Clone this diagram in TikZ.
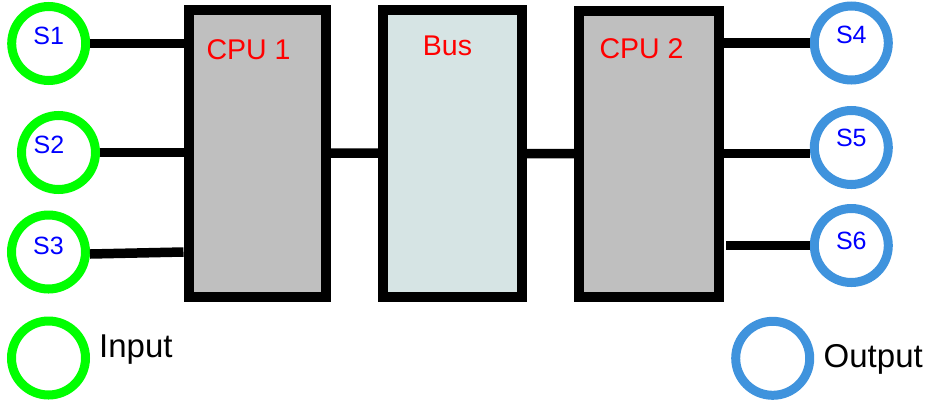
\documentclass[tikz,border=0pt]{standalone}
\usepackage{fontspec}
\setmainfont{Liberation Sans}
\definecolor{ringgreen}{HTML}{00FF00}
\definecolor{ringblue}{HTML}{3F93DD}
\definecolor{labelblue}{HTML}{0000FF}
\definecolor{cpugray}{HTML}{BFBFBF}
\definecolor{busfill}{HTML}{D6E4E4}
\begin{document}
\begin{tikzpicture}[x=1pt,y=-1pt,
  inring/.style={circle,draw=ringgreen,line width=9pt,minimum size=74pt,inner sep=0pt},
  outring/.style={circle,draw=ringblue,line width=9pt,minimum size=74pt,inner sep=0pt},
  slabel/.style={text=labelblue,font=\fontsize{25}{30}\selectfont,inner sep=0pt},
  box/.style={rectangle,draw=black,line width=10pt,inner sep=0pt},
  boxlabel/.style={text=red,font=\fontsize{28.5}{34}\selectfont,inner sep=0pt},
  wire/.style={draw=black,line width=9.5pt},
  legend/.style={font=\fontsize{33}{40}\selectfont,inner sep=0pt,anchor=base west}]
\useasboundingbox (0,0) rectangle (931,405);

% processing boxes
\node[box,fill=cpugray,minimum width=137.5pt,minimum height=287pt] (cpu1) at (257.25,153) {};
\node[box,fill=busfill,minimum width=138.4pt,minimum height=286.7pt] (bus) at (452.5,153.3) {};
\node[box,fill=cpugray,minimum width=140pt,minimum height=285.7pt] (cpu2) at (649,153.85) {};
\node[boxlabel] (cpu1t) at (248.5,50) {CPU 1};
\node[boxlabel] (bust) at (447.5,46) {Bus};
\node[boxlabel] (cpu2t) at (641.5,49) {CPU 2};

% input sensors
\node[inring] (s1) at (48.7,43.5) {};
\node[inring] (s2) at (58.5,152.5) {};
\node[inring] (s3) at (48.5,252) {};
\node[slabel] (s1t) at ([yshift=7.5pt]s1.center) {S1};
\node[slabel] (s2t) at ([xshift=-9.5pt,yshift=7.5pt]s2.center) {S2};
\node[slabel] (s3t) at ([yshift=6pt]s3.center) {S3};

% output sensors
\node[outring] (s4) at (851.3,43) {};
\node[outring] (s5) at (851.3,147.5) {};
\node[outring] (s6) at (851.3,245.5) {};
\node[slabel] (s4t) at ([yshift=8pt]s4.center) {S4};
\node[slabel] (s5t) at ([yshift=9.5pt]s5.center) {S5};
\node[slabel] (s6t) at ([yshift=4.5pt]s6.center) {S6};

% connectors
\draw[wire] (s1.east) -- (s1.east -| cpu1.west);
\draw[wire] (s2.east) -- (s2.east -| cpu1.west);
\draw[wire] ([yshift=-2pt]s3.east) -- (cpu1.west |- s3.east);
\draw[wire] (cpu1) -- (bus);
\draw[wire] (bus) -- (cpu2);
\draw[wire] (cpu2.east |- s4.west) -- (s4.west);
\coordinate (s5in) at ([yshift=-6pt]s5.west);
\draw[wire] (cpu2.east |- s5in) -- (s5in);
\coordinate (s6out) at ([xshift=2pt]cpu2.east |- s6.west);
\draw[wire] (s6out) -- (s6.west);

% legend
\node[inring] (inleg) at (48.5,358) {};
\node[legend] (intext) at (99,357) {Input};
\node[outring] (outleg) at (772.7,358.3) {};
\node[legend] (outtext) at (823.5,367.3) {Output};
\end{tikzpicture}
\end{document}
